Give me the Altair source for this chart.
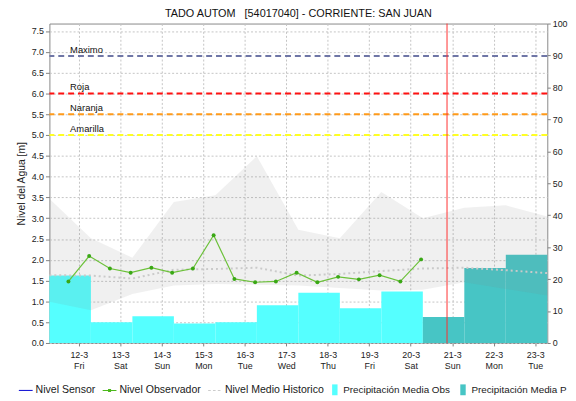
import altair as alt
import pandas as pd

TITLE = "TADO AUTOM \u00a0 [54017040] - CORRIENTE: SAN JUAN"
Y_TITLE = "Nivel del Agua [m]"
FONT = "Liberation Sans"

# daily nodes (07:00 local day boundaries)
day_nodes = [
    "2021-03-11T07:00:00Z", "2021-03-12T07:00:00Z", "2021-03-13T07:00:00Z",
    "2021-03-14T07:00:00Z", "2021-03-15T07:00:00Z", "2021-03-16T07:00:00Z",
    "2021-03-17T07:00:00Z", "2021-03-18T07:00:00Z", "2021-03-19T07:00:00Z",
    "2021-03-20T07:00:00Z", "2021-03-21T07:00:00Z", "2021-03-22T07:00:00Z",
    "2021-03-23T07:00:00Z",
]
band_upper = [3.47, 2.52, 2.05, 3.39, 3.55, 4.49, 2.72, 2.52, 3.63, 3.00, 3.25, 3.31, 3.04]
band_lower = [0.99, 0.79, 1.18, 1.38, 1.42, 1.40, 1.38, 1.32, 1.26, 1.28, 1.46, 1.30, 1.14]
mean_level = [1.63, 1.62, 1.55, 1.76, 1.78, 1.81, 1.62, 1.66, 1.73, 1.79, 1.81, 1.75, 1.68]

# observer readings
obs_times = [
    "2021-03-11T18:00:00Z", "2021-03-12T06:00:00Z", "2021-03-12T18:00:00Z",
    "2021-03-13T06:00:00Z", "2021-03-13T18:00:00Z", "2021-03-14T06:00:00Z",
    "2021-03-14T18:00:00Z", "2021-03-15T06:00:00Z", "2021-03-15T18:00:00Z",
    "2021-03-16T06:00:00Z", "2021-03-16T18:00:00Z", "2021-03-17T06:00:00Z",
    "2021-03-17T18:00:00Z", "2021-03-18T06:00:00Z", "2021-03-18T18:00:00Z",
    "2021-03-19T06:00:00Z", "2021-03-19T18:00:00Z", "2021-03-20T06:00:00Z",
]
obs_level = [1.48, 2.09, 1.79, 1.69, 1.81, 1.69, 1.79, 2.59, 1.54, 1.46,
             1.48, 1.69, 1.46, 1.59, 1.53, 1.63, 1.48, 2.01]

# precipitation (mm), daily 07:00 -> 07:00
precip_obs = [21.1, 6.5, 8.4, 6.1, 6.5, 11.8, 15.7, 10.9, 16.1]
precip_fc = [8.1, 23.5, 27.6]
precip_names = ["Precipitación Media Obs", "Precipitación Media Pronosticada"]
precip_colors = ["#55ffff", "#47c5c5"]

# alert thresholds
thr_names = ["Maximo", "Roja", "Naranja", "Amarilla"]
thr_values = [6.9, 6.0, 5.5, 5.0]
thr_colors = ["#6f76a6", "#ff1010", "#ff9a1a", "#ffff22"]

now_time = ["2021-03-20T21:00:00Z"]

legend_names = ["Nivel Sensor", "Nivel Observador", "Nivel Medio Historico"]
legend_colors = ["#1c1cd6", "#4cb81c", "#cccccc"]
legend_shapes = [
    "M-1,-0.08H1V0.08H-1Z",
    "M-1,-0.07H1V0.07H-1Z M-0.22,-0.22H0.22V0.22H-0.22Z",
    "M-1,-0.08H-0.62V0.08H-1Z M-0.3,-0.08H0.08V0.08H-0.3Z M0.4,-0.08H0.78V0.08H0.4Z",
]

tick_days = [12, 13, 14, 15, 16, 17, 18, 19, 20, 21, 22, 23]
left_ticks = [0.0, 0.5, 1.0, 1.5, 2.0, 2.5, 3.0, 3.5, 4.0, 4.5, 5.0, 5.5, 6.0, 6.5, 7.0, 7.5]
right_ticks = [0, 10, 20, 30, 40, 50, 60, 70, 80, 90, 100]

# ---------------- tables ----------------
band_df = pd.DataFrame({"t": day_nodes, "upper": band_upper, "lower": band_lower, "mean": mean_level})
obs_df = pd.DataFrame({"t": obs_times, "level": obs_level})
precip_df = pd.DataFrame({
    "start": day_nodes[:-1],
    "end": day_nodes[1:],
    "mm": precip_obs + precip_fc,
    "tipo": [precip_names[0]] * len(precip_obs) + [precip_names[1]] * len(precip_fc),
})
thr_df = pd.DataFrame({"name": thr_names, "v": thr_values})
now_df = pd.DataFrame({"t": now_time})
dummy_df = pd.DataFrame({"serie": legend_names, "t": [day_nodes[0]] * 3, "v": [-1.0] * 3})

GRID = "#c4c4c4"
AX = "#808080"

x_scale = alt.Scale(
    type="utc",
    domain=[alt.DateTime(year=2021, month=3, date=11, hours=7, utc=True),
            alt.DateTime(year=2021, month=3, date=23, hours=7, utc=True)],
)
x_axis = alt.Axis(
    values=[alt.DateTime(year=2021, month=3, date=d, utc=True) for d in tick_days],
    labelExpr="[utcFormat(datum.value, '%-d-%-m'), utcFormat(datum.value, '%a')]",
    title=None, grid=True, gridColor=GRID, gridDash=[2, 2], domain=False,
    tickSize=3, tickColor=AX, labelFontSize=9, labelFont="Liberation Sans Narrow, Liberation Sans",
    labelLineHeight=11, labelPadding=5, labelColor="#222222", labelAngle=0,
)


def xenc(field):
    return alt.X(f"{field}:T", scale=x_scale, axis=x_axis)


y_scale = alt.Scale(domain=[0, 7.68], nice=False, zero=False)
y_axis = alt.Axis(
    values=left_ticks, format=".1f", title=Y_TITLE, grid=True, gridColor=GRID,
    gridDash=[2, 2], domain=False, tickSize=4, tickColor=AX, labelFontSize=9,
    labelPadding=2, labelColor="#222222", titleFontSize=10.5, titleFontWeight="normal",
    titleColor="#222222", titlePadding=5, titleFont=FONT,
)


def yenc(field):
    return alt.Y(f"{field}:Q", scale=y_scale, axis=y_axis)


bars = alt.Chart(precip_df).mark_rect().encode(
    x=xenc("start"),
    x2="end:T",
    y=alt.Y("mm:Q", scale=alt.Scale(domain=[0, 100], nice=False),
            axis=alt.Axis(orient="right", values=right_ticks, title=None, grid=False,
                          domain=False, tickSize=3, tickColor=AX, labelFontSize=9,
                          labelPadding=2, labelColor="#222222")),
    y2=alt.datum(0),
    fill=alt.Fill("tipo:N", scale=alt.Scale(domain=precip_names, range=precip_colors),
                  legend=alt.Legend(
                      title=None, orient="none", legendX=284, legendY=366,
                      direction="horizontal", symbolType="M-0.5,-1H0.5V1H-0.5Z",
                      symbolSize=121, symbolStrokeWidth=0, symbolOpacity=1,
                      labelOffset=3, columnPadding=7, padding=0,
                      labelFontSize=10, labelFont=FONT, labelColor="#1a1a1a",
                      labelLimit=400,
                      labelExpr="length(datum.label) > 23 ? slice(datum.label, 0, 21) : datum.label",
                  )),
)

band = alt.Chart(band_df).mark_area(color="#808080", opacity=0.12).encode(
    x=xenc("t"), y=yenc("upper"), y2="lower:Q"
)

mean_line = alt.Chart(band_df).mark_line(color="#cacaca", strokeWidth=2, strokeDash=[2, 3]).encode(
    x=xenc("t"), y=yenc("mean")
)

thr_rules = alt.Chart(thr_df).mark_rule(strokeWidth=2, strokeDash=[6, 4]).encode(
    y=yenc("v"),
    stroke=alt.Stroke("name:N", scale=alt.Scale(domain=thr_names, range=thr_colors), legend=None),
)

thr_text = alt.Chart(thr_df).mark_text(
    align="left", baseline="bottom", dy=-1, fontSize=9.5, font=FONT, color="#111111"
).encode(x=alt.value(21), y=yenc("v"), text="name:N")

obs_line = alt.Chart(obs_df).mark_line(
    color="#6cc13a", strokeWidth=1.2,
    point=alt.OverlayMarkDef(color="#3aa815", size=16, filled=True, opacity=1),
).encode(x=xenc("t"), y=yenc("level"))

now_rule = alt.Chart(now_df).mark_rule(color="#ff3030", strokeWidth=1).encode(x=xenc("t"))

leg1 = alt.Legend(
    title=None, orient="none", legendX=-31, legendY=365, direction="horizontal",
    symbolSize=196, symbolStrokeWidth=0, symbolOpacity=1, labelOffset=3,
    columnPadding=7, padding=0, labelFontSize=10.7, labelFont=FONT, labelColor="#1a1a1a",
)
dummy = alt.Chart(dummy_df).mark_point(filled=True, clip=True, opacity=1, size=1).encode(
    x=xenc("t"),
    y=yenc("v"),
    color=alt.Color("serie:N", scale=alt.Scale(domain=legend_names, range=legend_colors), legend=leg1),
    shape=alt.Shape("serie:N", scale=alt.Scale(domain=legend_names, range=legend_shapes), legend=leg1),
)

inner = alt.layer(band, mean_line, thr_rules, thr_text, obs_line, now_rule, dummy)

chart = (
    alt.layer(bars, inner)
    .resolve_scale(y="independent")
    .properties(
        width=505, height=324,
        title=alt.Title(TITLE, fontSize=11, font=FONT, fontWeight="normal", color="#111111",
                        anchor="middle", frame="group", offset=1),
        autosize=alt.AutoSizeParams(type="none"),
        padding={"left": 42, "top": 13, "right": 21, "bottom": 51},
    )
    .configure_view(stroke="#888888", strokeWidth=1)
    .configure_axis(labelFont=FONT, titleFont=FONT)
)

chart.save("out.html", embed_options={"renderer": "svg", "actions": False})
